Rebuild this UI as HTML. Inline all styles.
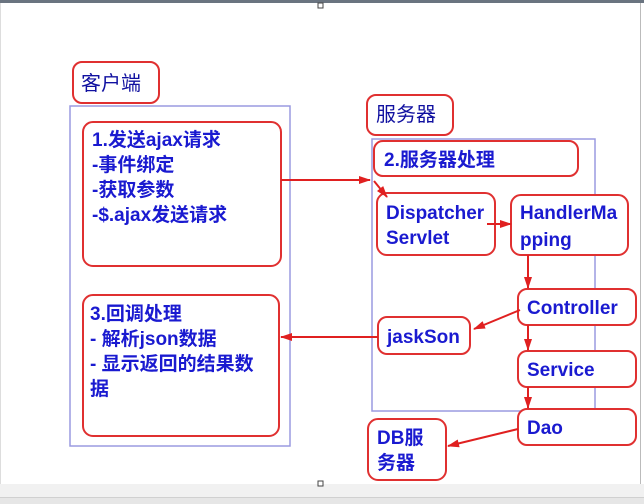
<!DOCTYPE html>
<html><head><meta charset="utf-8"><style>
html,body{margin:0;padding:0;background:#fff;width:644px;height:504px;overflow:hidden}
svg text{font-family:"Liberation Sans","Noto Sans CJK SC",sans-serif;font-weight:bold;fill:#1a1ad0;font-size:19px}
</style></head><body>
<svg width="644" height="504" viewBox="0 0 644 504" xmlns="http://www.w3.org/2000/svg">
<defs><marker id="a" markerWidth="12" markerHeight="10" refX="11" refY="5" orient="auto" markerUnits="userSpaceOnUse"><path d="M0,1 L12,5 L0,9 Z" fill="#e02020"/></marker></defs>
<rect x="0" y="0" width="644" height="3" fill="#6a7480"/>
<rect x="0" y="484" width="644" height="20" fill="#f1f1f1"/>
<rect x="0" y="498" width="644" height="6" fill="#e6e6e6"/>
<line x1="0" y1="497.5" x2="644" y2="497.5" stroke="#d0d0d0"/>
<line x1="640.5" y1="3" x2="640.5" y2="484" stroke="#bbb"/>
<line x1="0.5" y1="3" x2="0.5" y2="484" stroke="#ddd"/>
<rect x="318" y="3" width="5" height="5" fill="#fff" stroke="#444"/>
<rect x="318" y="481" width="5" height="5" fill="#fff" stroke="#444"/>
<g fill="none" stroke="#9a9ae0" stroke-width="1.5">
<rect x="70" y="106" width="220" height="340"/>
<rect x="372" y="139" width="223" height="272"/>
</g>
<g fill="#fff" stroke="#e03030" stroke-width="2">
<rect x="73" y="62" width="86" height="41" rx="9"/>
<rect x="83" y="122" width="198" height="144" rx="10"/>
<rect x="83" y="295" width="196" height="141" rx="10"/>
<rect x="367" y="95" width="86" height="40" rx="9"/>
<rect x="374" y="141" width="204" height="35" rx="9"/>
<rect x="377" y="193" width="118" height="62" rx="10"/>
<rect x="511" y="195" width="117" height="60" rx="10"/>
<rect x="518" y="289" width="118" height="36" rx="9"/>
<rect x="378" y="317" width="92" height="37" rx="9"/>
<rect x="518" y="351" width="118" height="36" rx="9"/>
<rect x="518" y="409" width="118" height="36" rx="9"/>
<rect x="368" y="419" width="78" height="61" rx="10"/>
</g>
<g stroke="#e02020" stroke-width="2" fill="none" marker-end="url(#a)">
<polyline points="281,180 370,180" />
<line x1="374" y1="181" x2="387" y2="197"/>
<line x1="487" y1="224" x2="511" y2="224"/>
<line x1="528" y1="255" x2="528" y2="288"/>
<line x1="520" y1="310" x2="474" y2="329"/>
<line x1="378" y1="337" x2="281" y2="337"/>
<line x1="528" y1="325" x2="528" y2="350"/>
<line x1="528" y1="387" x2="528" y2="408"/>
<line x1="518" y1="429" x2="448" y2="446"/>
</g>
<text x="81" y="90" style="font-weight:normal;font-size:20px;fill:#1010a0">客户端</text>
<text x="376" y="121" style="font-weight:normal;font-size:20px;fill:#1010a0">服务器</text>
<text x="92" y="146">1.发送ajax请求</text>
<text x="92" y="171">-事件绑定</text>
<text x="92" y="196">-获取参数</text>
<text x="92" y="221">-$.ajax发送请求</text>
<text x="90" y="320">3.回调处理</text>
<text x="90" y="345">- 解析json数据</text>
<text x="90" y="370">- 显示返回的结果数</text>
<text x="90" y="395">据</text>
<text x="384" y="166">2.服务器处理</text>
<text x="386" y="219">Dispatcher</text>
<text x="386" y="244">Servlet</text>
<text x="520" y="219">HandlerMa</text>
<text x="520" y="246">pping</text>
<text x="527" y="314">Controller</text>
<text x="387" y="343">jaskSon</text>
<text x="527" y="376">Service</text>
<text x="527" y="434">Dao</text>
<text x="377" y="444">DB服</text>
<text x="377" y="469">务器</text>
</svg>
</body></html>
